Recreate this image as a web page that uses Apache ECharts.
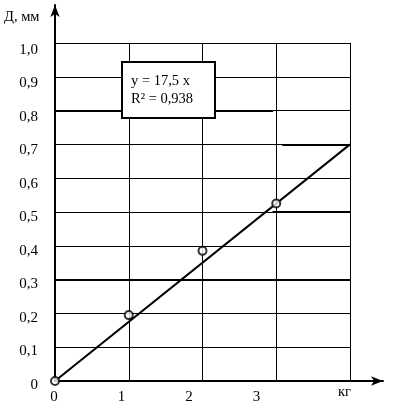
<!DOCTYPE html>
<html>
<head>
<meta charset="utf-8">
<script src="https://cdn.jsdelivr.net/npm/echarts@6/dist/echarts.min.js"></script>
<style>
  html, body { margin: 0; padding: 0; background: #fff; }
  #main { width: 396px; height: 412px; }
</style>
</head>
<body>
<div id="main"></div>
<script>
// measured points (mass, kg -> deflection, mm)
var measX = [0, 1, 2, 3];
var measY = [0, 0.195, 0.385, 0.525];
// trend line y = 17,5 x
var fitX = [0, 4];
var fitY = [0, 0.7];
var yTickLabels = ['0', '0,1', '0,2', '0,3', '0,4', '0,5', '0,6', '0,7', '0,8', '0,9', '1,0'];
var xTickLabels = ['0', '1', '2', '3'];
var yName = 'Д, мм';
var xName = 'кг';
var eqText = ['y = 17,5 x', 'R² = 0,938'];

var font = 'Liberation Serif';
var myChart = echarts.init(document.getElementById('main'));

var measData = [];
for (var i = 0; i < measX.length; i++) {
  measData.push([measX[i], measY[i]]);
}
var fitData = [];
for (var j = 0; j < fitX.length; j++) {
  fitData.push([fitX[j], fitY[j]]);
}

var option = {
  backgroundColor: '#fff',
  animation: false,
  textStyle: { fontFamily: font, color: '#000' },
  title: [{
    text: eqText.join('\n'),
    left: 122,
    top: 62,
    backgroundColor: '#fff',
    borderColor: '#000',
    borderWidth: 2,
    padding: [10, 22, 10, 9],
    textStyle: { fontFamily: font, fontSize: 14.5, fontWeight: 'normal', color: '#000', lineHeight: 18 }
  }, {
    text: yName,
    left: 4,
    top: 10,
    padding: 0,
    textStyle: { fontFamily: font, fontSize: 14.5, fontWeight: 'normal', color: '#000' }
  }],
  grid: [
    { left: 55, right: 46, top: 43, bottom: 31 },   // plot area
    { left: 55, right: 13, top: 5, bottom: 31 },    // arrow axes
    { left: 54, right: 72, top: 50, bottom: 27 }    // tick labels
  ],
  xAxis: [{
    gridIndex: 0, type: 'value', min: 0, max: 4, interval: 1,
    axisLine: { show: false }, axisTick: { show: false }, axisLabel: { show: false },
    splitLine: { show: true, lineStyle: { color: '#000', width: 1 } }
  }, {
    gridIndex: 1, type: 'value', min: 0, max: 1,
    axisLine: { show: true, symbol: ['none', 'arrow'], symbolSize: [7, 12], lineStyle: { color: '#000', width: 2 } },
    axisTick: { show: false }, axisLabel: { show: false }, splitLine: { show: false }
  }, {
    gridIndex: 2, type: 'value', min: 0, max: 4, interval: 1,
    name: xName, nameLocation: 'end', nameGap: 14,
    nameTextStyle: { fontFamily: font, fontSize: 14.5, color: '#000', verticalAlign: 'top' },
    axisLine: { show: false }, axisTick: { show: false }, splitLine: { show: false },
    axisLabel: {
      margin: 5, fontFamily: font, fontSize: 15, color: '#000',
      formatter: function (v) { return xTickLabels[v] || ''; }
    }
  }],
  yAxis: [{
    gridIndex: 0, type: 'value', min: 0, max: 1, interval: 0.1,
    axisLine: { show: false }, axisTick: { show: false }, axisLabel: { show: false },
    splitLine: { show: true, lineStyle: { color: '#000', width: 1 } }
  }, {
    gridIndex: 1, type: 'value', min: 0, max: 1,
    axisLine: { show: true, symbol: ['none', 'arrow'], symbolSize: [7, 12], lineStyle: { color: '#000', width: 2 } },
    axisTick: { show: false }, axisLabel: { show: false }, splitLine: { show: false }
  }, {
    gridIndex: 2, type: 'value', min: 0, max: 1, interval: 0.1,
    axisLine: { show: false }, axisTick: { show: false }, splitLine: { show: false },
    axisLabel: {
      margin: 16, fontFamily: font, fontSize: 15, color: '#000',
      formatter: function (v) { return yTickLabels[Math.round(v * 10)]; }
    }
  }],
  series: [{
    type: 'line',
    xAxisIndex: 0, yAxisIndex: 0,
    data: fitData,
    showSymbol: false,
    lineStyle: { color: '#000', width: 2 },
    silent: true,
    markLine: {
      silent: true,
      symbol: 'none',
      label: { show: false },
      lineStyle: { color: '#000', width: 2, type: 'solid' },
      data: [
        [{ coord: [0, 0.3] }, { coord: [4, 0.3] }],
        [{ coord: [0, 0.8] }, { coord: [2.96, 0.8] }],
        [{ coord: [3.08, 0.7] }, { coord: [4, 0.7] }],
        [{ coord: [2.95, 0.5] }, { coord: [4, 0.5] }]
      ]
    },
    z: 3
  }, {
    type: 'scatter',
    xAxisIndex: 0, yAxisIndex: 0,
    data: measData,
    symbol: 'circle',
    symbolSize: 8,
    itemStyle: { color: '#fff', borderColor: '#000', borderWidth: 2 },
    z: 4
  }]
};
myChart.setOption(option);
</script>
</body>
</html>
